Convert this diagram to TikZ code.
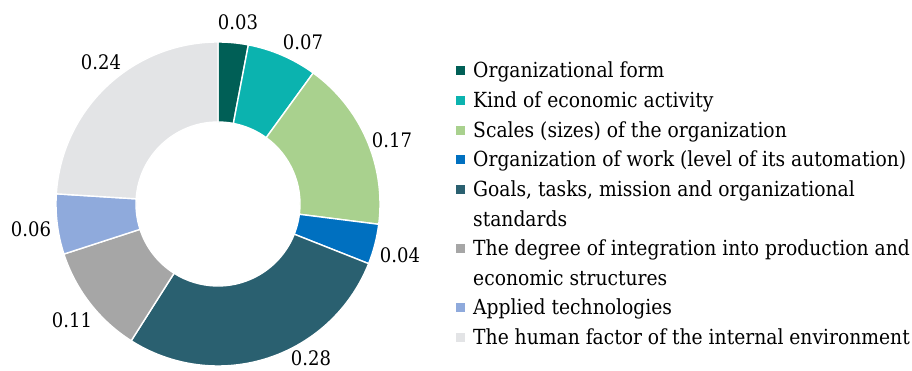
\documentclass[tikz,border=0pt]{standalone}
\usepackage{fontspec}
\setmainfont{DejaVu Serif Condensed}
\usepackage{xcolor}
\usetikzlibrary{calc,positioning}

\definecolor{cForm}{HTML}{005F56}
\definecolor{cKind}{HTML}{0BB3AF}
\definecolor{cScale}{HTML}{A9D18E}
\definecolor{cWork}{HTML}{0070C0}
\definecolor{cGoals}{HTML}{2A6070}
\definecolor{cInteg}{HTML}{A6A6A6}
\definecolor{cTech}{HTML}{8FAADC}
\definecolor{cHuman}{HTML}{E3E4E6}

\tikzset{
    slice/.style={draw=white, line width=1.4pt},
    value/.style={font=\fontsize{20}{22}\selectfont, inner sep=0pt},
    keybox/.style={minimum size=9pt, inner sep=0pt},
    keytext/.style={font=\fontsize{20.8}{25}\selectfont, inner sep=0pt, anchor=base west}
}

\begin{document}
\begin{tikzpicture}[x=1pt, y=1pt]
        \useasboundingbox (0,0) rectangle (912,370);
        \coordinate (center) at (218,166);

        % Ring slices, clockwise from the top
        \foreach \start/\stop/\col in {
            90/79.2/cForm,
            79.2/54/cKind,
            54/-7.2/cScale,
            -7.2/-21.6/cWork,
            -21.6/-122.4/cGoals,
            -122.4/-162/cInteg,
            -162/-183.6/cTech,
            -183.6/-270/cHuman} {
            \fill[fill=\col, slice] ($(center)+(\start:162)$)
                arc[start angle=\start, end angle=\stop, radius=162]
                -- ($(center)+(\stop:82)$)
                arc[start angle=\stop, end angle=\start, radius=82] -- cycle;
        }

        % Values
        \node[value] (v03) at (238,348) {0.03};
        \node[value] (v07) at (303,328) {0.07};
        \node[value] (v17) at (392,230) {0.17};
        \node[value] (v04) at (400,115) {0.04};
        \node[value] (v28) at (311,12) {0.28};
        \node[value] (v11) at (72,50) {0.11};
        \node[value] (v06) at (31,141) {0.06};
        \node[value] (v24) at (101,308) {0.24};

        % Legend
        \foreach \y/\col/\name/\txt in {
            292/cForm/form/{Organizational form},
            262.4/cKind/kind/{Kind of economic activity},
            232.8/cScale/scale/{Scales (sizes) of the organization},
            203.2/cWork/work/{Organization of work (level of its automation)},
            173.6/cGoals/goals/{Goals, tasks, mission and organizational},
            114.4/cInteg/integ/{The degree of integration into production and},
            55.2/cTech/tech/{Applied technologies},
            25.6/cHuman/human/{The human factor of the internal environment}} {
            \node[keybox, fill=\col] (box-\name) at (460,\y+7) {};
            \node[keytext] (key-\name) at (473,\y) {\txt};
        }
        % second lines of the long entries
        \node[keytext] (key-goals-2) at ($(key-goals.base west)+(0,-29.6)$) {standards};
        \node[keytext] (key-integ-2) at ($(key-integ.base west)+(0,-29.6)$) {economic structures};
    \end{tikzpicture}
\end{document}
